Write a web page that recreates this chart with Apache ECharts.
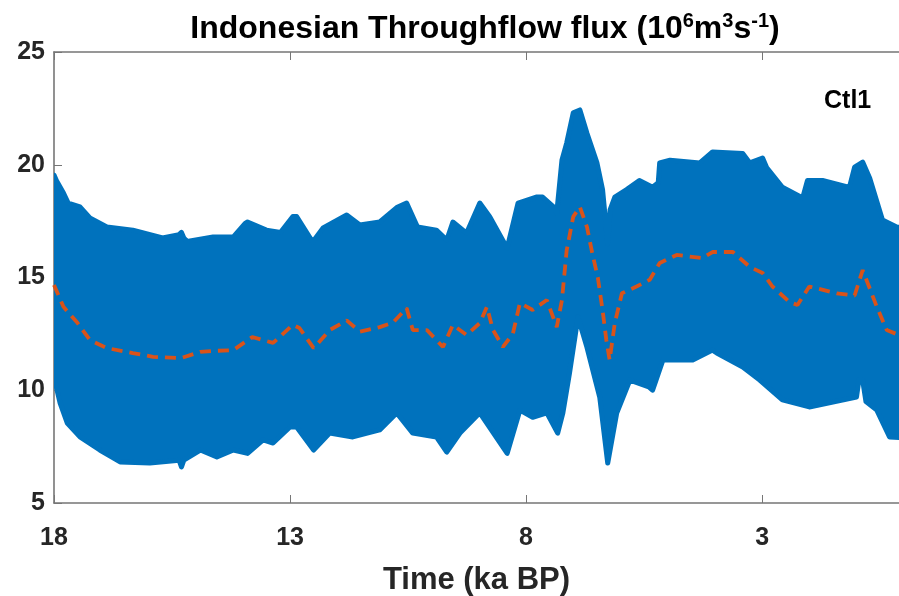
<!DOCTYPE html>
<html>
<head>
<meta charset="utf-8">
<script src="https://cdn.jsdelivr.net/npm/echarts@6/dist/echarts.min.js"></script>
<style>
  html, body { margin: 0; padding: 0; background: #fff; }
  #chart { width: 899px; height: 596px; }
</style>
</head>
<body>
<div id="chart"></div>
<script>
// Time axis ticks (ka BP)
const timeTicks = [18, 13, 8, 3];

// Upper edge of the ITF flux envelope: time (ka BP), flux (Sv)
const upperTime = [18.0, 17.95, 17.8, 17.7, 17.45, 17.24, 16.88, 16.33, 15.7, 15.35, 15.3, 15.25, 15.18, 14.63, 14.2, 13.95, 13.9, 13.5, 13.2, 12.94, 12.86, 12.52, 12.3, 11.8, 11.52, 11.1, 10.74, 10.53, 10.3, 9.9, 9.68, 9.55, 9.26, 8.98, 8.77, 8.4, 8.17, 7.77, 7.65, 7.4, 7.35, 7.24, 7.14, 7.0, 6.86, 6.71, 6.5, 6.38, 6.27, 6.22, 6.12, 5.87, 5.6, 5.32, 5.2, 5.17, 4.95, 4.32, 4.05, 3.41, 3.26, 2.99, 2.9, 2.57, 2.14, 2.04, 1.72, 1.15, 1.04, 0.87, 0.72, 0.45, 0.15, 0.0];
const upperFlux = [19.55, 19.3, 18.75, 18.3, 18.13, 17.64, 17.24, 17.1, 16.75, 16.9, 17.0, 16.75, 16.6, 16.8, 16.8, 17.4, 17.46, 17.1, 17.0, 17.7, 17.7, 16.57, 17.2, 17.77, 17.33, 17.46, 18.1, 18.3, 17.24, 17.1, 16.66, 17.46, 16.97, 18.3, 17.7, 16.3, 18.3, 18.57, 18.57, 18.1, 17.86, 20.2, 20.96, 22.3, 22.43, 21.4, 20.1, 18.9, 16.5, 18.0, 18.57, 18.9, 19.3, 19.0, 19.2, 20.08, 20.2, 20.08, 20.57, 20.5, 20.08, 20.3, 19.86, 19.0, 18.53, 19.3, 19.3, 19.0, 19.9, 20.12, 19.4, 17.55, 17.24, 17.2];

// Lower edge of the ITF flux envelope
const lowerTime = [18.0, 17.87, 17.72, 17.45, 17.03, 16.6, 15.97, 15.35, 15.3, 15.25, 14.9, 14.55, 14.2, 13.9, 13.57, 13.36, 13.0, 12.86, 12.5, 12.16, 11.67, 11.1, 10.74, 10.4, 9.9, 9.68, 9.4, 8.98, 8.4, 8.13, 7.86, 7.56, 7.33, 7.22, 7.08, 6.9, 6.71, 6.44, 6.27, 6.08, 5.8, 5.4, 5.32, 5.1, 5.02, 4.47, 4.05, 3.96, 3.41, 3.05, 2.57, 2.0, 1.0, 0.95, 0.87, 0.8, 0.57, 0.3, 0.0];
const lowerFlux = [10.59, 9.43, 8.55, 7.93, 7.35, 6.82, 6.77, 6.9, 6.6, 6.9, 7.35, 7.04, 7.35, 7.2, 7.8, 7.66, 8.37, 8.37, 7.35, 8.1, 7.93, 8.24, 8.99, 8.1, 7.93, 7.26, 8.1, 9.0, 7.2, 9.12, 8.8, 9.0, 8.1, 9.0, 10.76, 13.25, 11.9, 9.7, 6.77, 8.99, 10.45, 10.15, 10.0, 11.34, 11.34, 11.34, 11.78, 11.65, 11.03, 10.45, 9.57, 9.26, 9.7, 10.45, 10.45, 9.5, 9.12, 7.93, 7.9];

// Smoothed mean flux
const meanTime = [18.0, 17.8, 17.5, 17.24, 16.88, 16.33, 15.9, 15.3, 14.9, 14.55, 14.2, 13.8, 13.36, 12.94, 12.8, 12.5, 12.16, 11.8, 11.52, 11.1, 10.82, 10.53, 10.4, 10.1, 9.76, 9.55, 9.26, 8.98, 8.83, 8.7, 8.49, 8.28, 8.13, 7.86, 7.56, 7.35, 7.24, 7.14, 7.0, 6.86, 6.71, 6.6, 6.48, 6.38, 6.3, 6.23, 6.12, 5.97, 5.66, 5.38, 5.17, 4.81, 4.26, 4.05, 3.62, 3.26, 2.99, 2.78, 2.42, 2.25, 2.0, 1.42, 1.04, 0.87, 0.57, 0.36, 0.0];
const meanFlux = [14.67, 13.7, 12.98, 12.23, 11.87, 11.65, 11.48, 11.43, 11.7, 11.75, 11.78, 12.36, 12.1, 12.9, 12.76, 11.87, 12.67, 13.1, 12.6, 12.8, 13.0, 13.65, 12.67, 12.67, 11.92, 12.9, 12.45, 12.98, 13.7, 12.67, 11.92, 12.5, 13.87, 13.56, 14.0, 12.8, 14.0, 16.2, 17.7, 18.13, 17.24, 16.1, 15.0, 13.56, 12.23, 11.34, 12.98, 14.3, 14.6, 14.9, 15.64, 16.0, 15.86, 16.13, 16.13, 15.47, 15.2, 14.6, 13.91, 13.78, 14.6, 14.3, 14.2, 15.33, 13.7, 12.67, 12.36];

const BLUE = '#0072BD';
const ORANGE = '#D95319';
const AXIS = '#767676';
const TEXT = '#262626';
const FONT = '"Liberation Sans", Arial, sans-serif';

const chart = echarts.init(document.getElementById('chart'), null, { renderer: 'canvas' });

const meanData = meanTime.map((t, i) => [t, meanFlux[i]]);

const axisLine = { show: true, onZero: false, lineStyle: { color: AXIS, width: 1.6 } };
const tickStyle = { show: true, inside: true, length: 8, lineStyle: { color: AXIS, width: 1 } };

chart.setOption({
  animation: false,
  backgroundColor: '#fff',
  title: [
    {
      text: 'Indonesian Throughflow flux (10{s|6}m{s|3}s{s|-1})',
      left: 480, top: 6, textAlign: 'center',
      textStyle: {
        fontFamily: FONT, fontWeight: 'bold', fontSize: 32, color: '#000',
        rich: { s: { fontFamily: FONT, fontWeight: 'bold', fontSize: 20, color: '#000', verticalAlign: 'top', padding: [0, 0, 17, 0] } }
      }
    },
    {
      text: 'Ctl1', left: 819, top: 84,
      textStyle: { fontFamily: FONT, fontWeight: 'bold', fontSize: 25, color: '#000' }
    }
  ],
  grid: { left: 54, right: 0, top: 52, bottom: 93, containLabel: false, outerBoundsMode: 'none' },
  xAxis: [
    {
      type: 'value', inverse: true, min: 0.1, max: 18, position: 'bottom',
      axisLine: axisLine,
      splitLine: { show: false },
      axisTick: Object.assign({}, tickStyle, { customValues: timeTicks }),
      axisLabel: { customValues: timeTicks, fontFamily: FONT, fontWeight: 'bold', fontSize: 25, color: TEXT, margin: 23 },
      name: 'Time (ka BP)', nameLocation: 'middle', nameGap: 62,
      nameTextStyle: { fontFamily: FONT, fontWeight: 'bold', fontSize: 31, color: TEXT }
    },
    {
      type: 'value', inverse: true, min: 0.1, max: 18, position: 'top',
      axisLine: axisLine,
      splitLine: { show: false },
      axisTick: Object.assign({}, tickStyle, { customValues: timeTicks }),
      axisLabel: { show: false }
    }
  ],
  yAxis: {
    type: 'value', min: 5, max: 25, interval: 5,
    axisLine: axisLine,
    splitLine: { show: false },
    axisTick: tickStyle,
    axisLabel: { fontFamily: FONT, fontWeight: 'bold', fontSize: 25, color: TEXT, margin: 9 }
  },
  series: [
    {
      // Envelope band between the lower and upper flux edges
      type: 'custom',
      xAxisIndex: 0,
      clip: true,
      data: [[upperTime[0], upperFlux[0]]],
      renderItem: function (params, api) {
        const pts = [];
        for (let i = 0; i < upperTime.length; i++) pts.push(api.coord([upperTime[i], upperFlux[i]]));
        for (let i = lowerTime.length - 1; i >= 0; i--) pts.push(api.coord([lowerTime[i], lowerFlux[i]]));
        return {
          type: 'polygon',
          shape: { points: pts },
          style: { fill: BLUE, stroke: BLUE, lineWidth: 5, lineJoin: 'round' }
        };
      },
      z: 2
    },
    {
      type: 'line',
      data: meanData,
      showSymbol: false,
      symbol: 'none',
      lineStyle: { color: ORANGE, width: 3.8, type: [11, 7] },
      z: 3
    }
  ]
});
</script>
</body>
</html>
